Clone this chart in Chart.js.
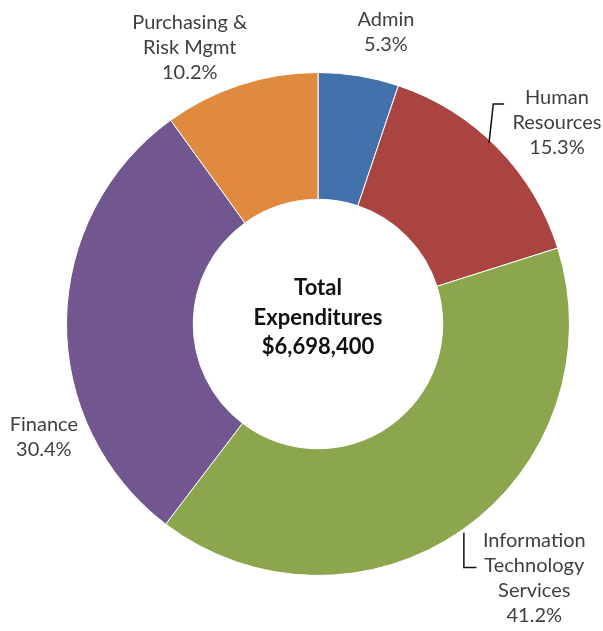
<!DOCTYPE html>
<html>
<head>
<meta charset="utf-8">
<script src="https://cdn.jsdelivr.net/npm/chart.js@4/dist/chart.umd.min.js"></script>
<style>
  html, body { margin: 0; padding: 0; background: #fff; }
  .wrap { position: relative; width: 603px; height: 631px; }
</style>
</head>
<body>
<div class="wrap"><canvas id="expChart"></canvas></div>
<script>
// Chart data
const categories = ['Admin', 'Human Resources', 'Information Technology Services', 'Finance', 'Purchasing & Risk Mgmt'];
const percents = [5.3, 15.3, 41.2, 30.4, 10.2];
const labelLines = [
    ['Admin'],
    ['Human', 'Resources'],
    ['Information', 'Technology', 'Services'],
    ['Finance'],
    ['Purchasing &', 'Risk Mgmt']
];
const colors = ['#4271ab', '#a94441', '#8ba64c', '#71568f', '#df8a3f'];
const centerLines = ['Total', 'Expenditures', '$6,698,400'];

// label block placement relative to chart center (in units of outer radius)
const labelPlace = [
    { dx: 0.27, dy: -1.16 },
    { dx: 0.95, dy: -0.80 },
    { dx: 0.86, dy: 1.01 },
    { dx: -1.09, dy: 0.45 },
    { dx: -0.51, dy: -1.10 }
];
// leader lines (relative to center, in units of outer radius)
const leaders = [
    null,
    [[0.68, -0.72], [0.697, -0.875], [0.74, -0.875]],
    [[0.58, 0.83], [0.58, 0.968], [0.63, 0.968]],
    null,
    null
];

const labelFont = '20px Lato, "Open Sans", sans-serif';
const lineH = 25;

const outerLabels = {
    id: 'outerLabels',
    afterDraw(chart) {
        const ctx = chart.ctx;
        const arc = chart.getDatasetMeta(0).data[0];
        const cx = arc.x, cy = arc.y, r = arc.outerRadius;

        ctx.save();
        // leader lines
        ctx.strokeStyle = '#111';
        ctx.lineWidth = 1.5;
        leaders.forEach(pts => {
            if (!pts) return;
            ctx.beginPath();
            pts.forEach((p, i) => {
                const x = cx + p[0] * r, y = cy + p[1] * r;
                if (i === 0) ctx.moveTo(x, y); else ctx.lineTo(x, y);
            });
            ctx.stroke();
        });

        // category labels
        ctx.font = labelFont;
        ctx.fillStyle = '#3f3f3f';
        ctx.textAlign = 'center';
        ctx.textBaseline = 'middle';
        labelLines.forEach((lines, i) => {
            const all = lines.concat([percents[i].toFixed(1) + '%']);
            const bx = cx + labelPlace[i].dx * r;
            const by = cy + labelPlace[i].dy * r;
            const top = by - (all.length - 1) * lineH / 2;
            all.forEach((t, j) => ctx.fillText(t, bx, top + j * lineH));
        });

        // center text
        ctx.font = 'bold 22px Lato, "Open Sans", sans-serif';
        ctx.fillStyle = '#111';
        centerLines.forEach((t, j) => ctx.fillText(t, cx, cy - 36 + j * 29.5));
        ctx.restore();
    }
};

new Chart(document.getElementById('expChart'), {
    type: 'doughnut',
    data: {
        labels: categories,
        datasets: [{
            data: percents,
            backgroundColor: colors,
            borderColor: '#ffffff',
            borderWidth: 1
        }]
    },
    options: {
        responsive: true,
        maintainAspectRatio: false,
        animation: false,
        cutout: '49.6%',
        layout: {
            padding: { left: 66, right: 33, top: 72, bottom: 55 }
        },
        plugins: {
            legend: { display: false },
            tooltip: { enabled: false }
        }
    },
    plugins: [outerLabels]
});
</script>
</body>
</html>
